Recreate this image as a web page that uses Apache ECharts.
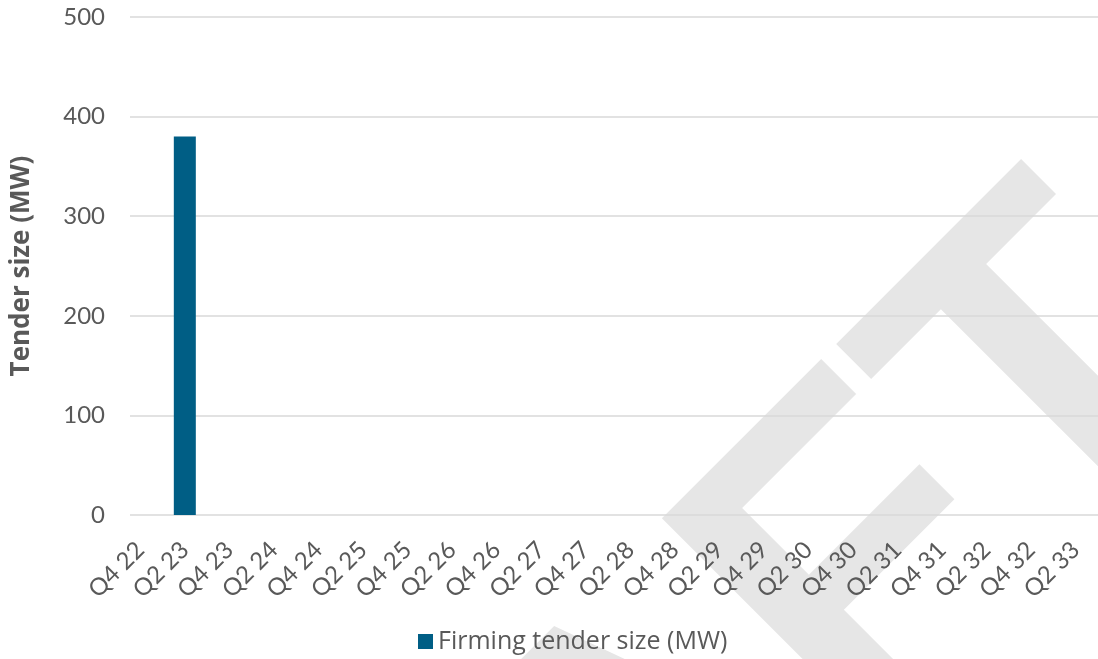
<!DOCTYPE html>
<html>
<head>
<meta charset="utf-8">
<script src="https://cdn.jsdelivr.net/npm/echarts@6/dist/echarts.min.js"></script>
<style>
html,body{margin:0;padding:0;background:#fff;}
#chart{width:1098px;height:659px;}
</style>
</head>
<body>
<div id="chart"></div>
<script>
// ---- data ----
const categories = ['Q4 22','Q2 23','Q4 23','Q2 24','Q4 24','Q2 25','Q4 25','Q2 26','Q4 26','Q2 27','Q4 27','Q2 28','Q4 28','Q2 29','Q4 29','Q2 30','Q4 30','Q2 31','Q4 31','Q2 32','Q4 32','Q2 33'];
const firmingTenderSize = [null, 380, null, null, null, null, null, null, null, null, null, null, null, null, null, null, null, null, null, null, null, null];
const yTicks = [0, 100, 200, 300, 400, 500];
const seriesName = 'Firming tender size (MW)';
const yAxisTitle = 'Tender size (MW)';
const watermarkText = 'DRAFT';

const FONT = 'Lato';
const GREY = '#595959';

const chart = echarts.init(document.getElementById('chart'));
chart.setOption({
  animation: false,
  backgroundColor: '#ffffff',
  graphic: {
    elements: [{
      type: 'text',
      z: -100,
      silent: true,
      x: 622,
      y: 817,
      rotation: Math.PI / 4,
      style: {
        text: watermarkText,
        font: 'bold 444px "Liberation Sans"',
        fill: '#e6e6e6',
        align: 'center',
        verticalAlign: 'middle'
      }
    }]
  },
  legend: {
    left: 418,
    top: 629,
    padding: 0,
    itemWidth: 15,
    itemHeight: 15,
    icon: 'rect',
    itemGap: 10,
    textStyle: { fontFamily: 'Open Sans', fontSize: 25, color: GREY },
    data: [seriesName]
  },
  grid: [
    { left: 130, right: 0, top: 17, bottom: 144, containLabel: false },
    { left: 118, width: 1001, top: 17, bottom: 144, containLabel: false }
  ],
  xAxis: [
    { gridIndex: 0, type: 'value', show: false, min: 0, max: 1 },
    {
      gridIndex: 1,
      type: 'category',
      data: categories,
      boundaryGap: true,
      axisLine: { show: false },
      axisTick: { show: false },
      axisLabel: {
        interval: 0,
        rotate: 45,
        margin: 31,
        fontFamily: FONT,
        fontSize: 24,
        color: GREY
      }
    }
  ],
  yAxis: [
    {
      gridIndex: 0,
      type: 'value',
      min: yTicks[0],
      max: yTicks[yTicks.length - 1],
      interval: 100,
      axisLine: { show: false },
      axisTick: { show: false },
      axisLabel: { margin: 25, fontFamily: FONT, fontSize: 24, color: GREY },
      splitLine: { lineStyle: { color: '#d9d9d9', width: 1.5 } },
      name: yAxisTitle,
      nameLocation: 'middle',
      nameRotate: 90,
      nameGap: 95,
      nameTextStyle: { fontFamily: 'Open Sans', fontSize: 26, fontWeight: 'bold', color: GREY }
    },
    {
      gridIndex: 1,
      type: 'value',
      show: false,
      min: yTicks[0],
      max: yTicks[yTicks.length - 1],
      interval: 100,
      splitLine: { show: false }
    }
  ],
  series: [{
    name: seriesName,
    type: 'bar',
    xAxisIndex: 1,
    yAxisIndex: 1,
    data: firmingTenderSize,
    barWidth: 22,
    itemStyle: { color: '#005e85' }
  }]
});
</script>
</body>
</html>
